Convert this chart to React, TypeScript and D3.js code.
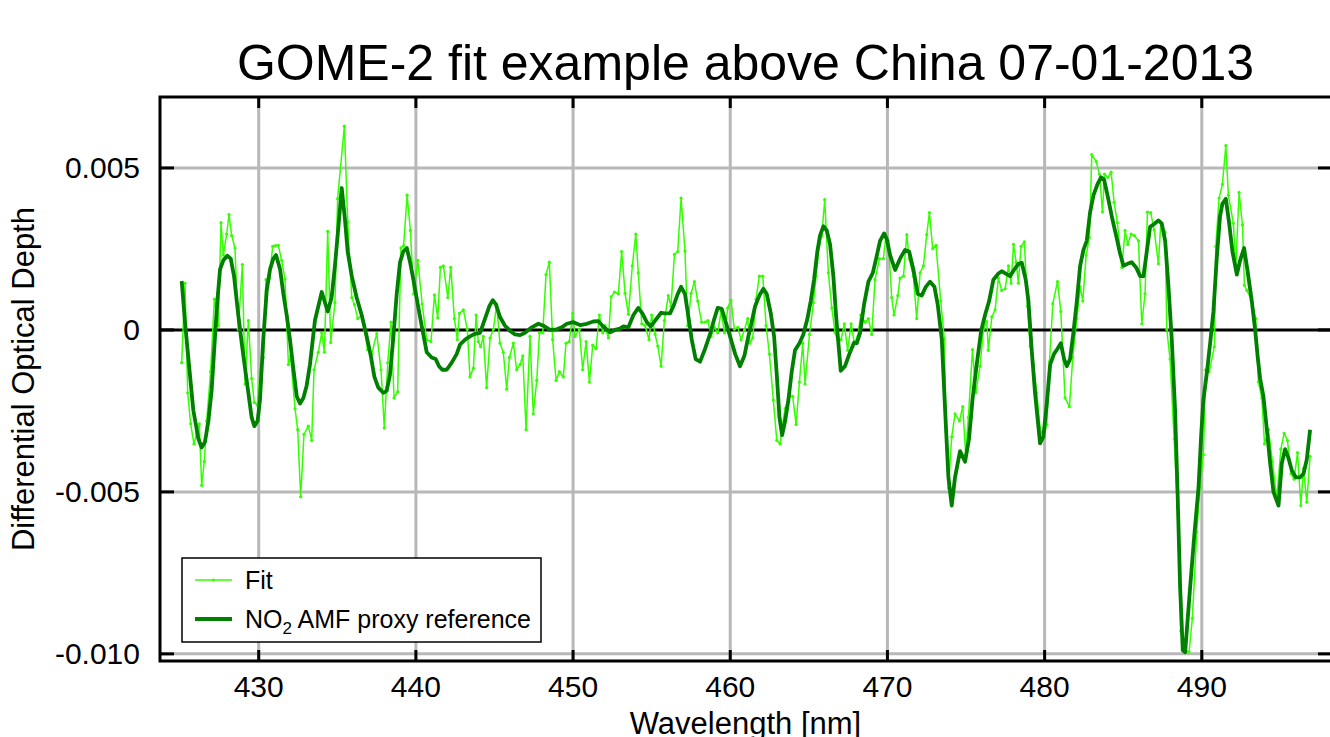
import React from "react";
import * as d3 from "d3";

const UNIT = 1e-3;

const fitWavelengths = [
  425.10, 425.31, 425.48, 425.67, 425.88, 426.05, 426.22, 426.37, 426.54, 426.69, 426.94, 427.18, 427.43, 427.60, 427.75, 427.96, 428.11, 428.28, 428.49, 428.70, 428.96, 429.13, 429.34, 429.55, 429.72, 429.91, 430.08, 430.29, 430.46, 430.68, 430.89, 431.06, 431.25, 431.46, 431.67, 431.89, 432.03, 432.31, 432.48, 432.67, 432.88, 433.16, 433.37, 433.52,
  433.79, 434.01, 434.18, 434.39, 434.58, 434.85, 435.02, 435.45, 435.66, 435.92, 436.09, 436.30, 436.55, 436.72, 436.93, 437.19, 437.51, 437.78, 437.99, 438.21, 438.42, 438.61, 438.84, 439.05, 439.22, 439.44, 439.65, 439.86, 440.12, 440.40, 440.69, 440.96, 441.18, 441.39, 441.56, 441.75, 442.03, 442.22, 442.45, 442.64, 442.77,
  443.02, 443.27, 443.44, 443.66, 443.83, 443.97, 444.12, 444.29, 444.50, 444.72, 444.93, 445.14, 445.35, 445.56, 445.78, 445.95, 446.20, 446.41, 446.63, 446.80, 447.01, 447.26, 447.47, 447.69, 447.86, 448.07, 448.28, 448.49, 448.70, 448.92, 449.13, 449.38, 449.55, 449.76, 449.98, 450.12, 450.40, 450.61, 450.83, 451.04, 451.25, 451.46, 451.67, 451.89,
  452.03, 452.25, 452.42, 452.63, 452.88, 453.09, 453.31, 453.52, 453.77, 453.99, 454.15, 454.37, 454.58, 454.83, 455.00, 455.22, 455.39, 455.60, 455.81, 456.06, 456.23, 456.45, 456.66, 456.87, 457.12, 457.29, 457.51, 457.72, 457.93, 458.18, 458.40, 458.57, 458.78, 458.99, 459.20, 459.42, 459.63, 459.84, 460.05, 460.26, 460.48, 460.69, 460.90, 461.11,
  461.26, 461.43, 461.64, 461.85, 462.07, 462.28, 462.49, 462.74, 462.96, 463.17, 463.33, 463.49, 463.76, 463.97, 464.19, 464.40, 464.61, 464.76, 465.04, 465.29, 465.46, 465.67, 465.82, 466.01, 466.24, 466.46, 466.67, 466.88, 467.05, 467.26, 467.47, 467.69, 467.90, 468.11, 468.30, 468.58, 468.79, 469.00, 469.21, 469.49, 469.74, 469.91, 470.06, 470.27, 470.42,
  470.66, 470.80, 471.02, 471.23, 471.38, 471.65, 471.86, 472.08, 472.29, 472.50, 472.67, 472.88, 473.09, 473.39, 473.62, 473.73, 473.88, 474.09, 474.30, 474.58, 474.79, 474.98, 475.15, 475.41, 475.62, 475.89, 476.11, 476.32, 476.42, 476.64, 476.85, 477.06, 477.27, 477.49, 477.70, 477.87, 478.02, 478.19, 478.33, 478.50, 478.71, 478.91, 479.08, 479.29, 479.50, 479.71,
  479.92, 480.14, 480.31, 480.52, 480.82, 481.03, 481.30, 481.58, 481.79, 482.05, 482.26, 482.43, 482.64, 482.85, 483.00, 483.28, 483.49, 483.68, 483.81, 484.02, 484.23, 484.42, 484.63, 484.91, 485.12, 485.29, 485.50, 485.71, 485.97, 486.18, 486.39, 486.54, 486.75, 486.97, 487.24, 487.39, 487.67, 487.77, 487.98, 488.24, 488.45, 488.66, 488.87,
  489.19, 489.40, 489.68, 489.89, 490.10, 490.25, 490.47, 490.80, 490.89, 491.10, 491.31, 491.53, 491.69, 492.01, 492.16, 492.37, 492.59, 492.71, 492.86, 493.14, 493.43, 493.60, 493.82, 493.99, 494.24, 494.49, 494.77, 495.03, 495.24, 495.45, 495.68, 495.87, 496.09, 496.30, 496.47, 496.68, 496.89,
];

// values in units of 1e-3
const fitValues = [
  -1.01, 1.44, -1.94, -2.9, -3.52, -3.2, -2.9, -4.8, -4.06, -2.81, -1.29, 0.95, 0.13, 3.31, 2.31, 2.96, 3.56, 2.91, 2.53, 0.02, 2.02, -1.67, 0.29, -1.5, -2.24, -2.32, -1.29, -0.85, 1.55, 1.6, 2.58, 2.6, 2.61, 2.15, 1.57, -1.07, -0.8, -2.43, -3.08, -5.15, -3.22, -2.97, -3.41, -1.23,
  -0.69, -0.09, -0.69, 3.04, -0.39, 0.84, 4.05, 6.29, 3.34, 1.0, 0.78, 0.35, 0.46, 0.0, -0.61, -0.74, -0.11, -1.23, -3.03, -1.01, 0.24, -2.1, -1.91, 2.53, 2.6, 4.16, 3.07, 1.11, 2.15, 0.8, -0.3, -0.36, 1.08, 0.37, 1.93, 1.98, 1.0, 1.93, 0.35, -0.3, 0.51,
  0.62, 0.02, -1.45, -1.18, 0.46, -0.36, -0.52, -0.2, -1.78, -0.25, 0.02, 0.78, -0.41, -0.69, -1.83, -0.85, -0.41, -1.23, -1.07, -0.8, -3.08, -0.2, -2.59, -1.56, -0.09, -0.09, 1.71, 2.09, -0.3, -1.56, -1.29, -1.45, -0.41, -0.36, 0.51, -0.2, 0.02, -1.23, -0.36, -1.61, -0.47, -0.58, 0.46, -0.09,
  0.13, -0.25, 1.02, 1.17, 1.11, 2.42, 1.13, 0.48, 1.98, 2.96, 1.76, 0.19, 0.13, -0.3, 0.46, -0.14, -0.5, -1.12, 0.29, 1.06, 0.73, 2.33, 2.42, 4.07, 2.44, 0.13, 1.13, 1.49, 0.89, 0.24, 0.24, 0.29, -0.2, 0.08, -0.09, 0.57, -0.09, 0.68, 0.92, 0.02, 0.08, -0.3, 0.0, 0.35,
  -0.41, -0.25, 0.95, 1.66, 1.66, 0.13, -0.74, -2.16, -3.41, -3.52, -2.9, -2.43, -2.05, -2.05, -2.92, -1.61, -0.41, -1.67, -0.14, 0.84, 1.66, 2.64, 2.91, 4.02, 1.76, 0.68, -0.09, -0.41, -0.3, 0.19, -0.63, 0.19, -0.41, -0.2, 0.46, 0.24, 0.35, -0.14, 1.55, 2.2, 2.2, 2.91, 2.75, 1.0, 0.46,
  1.06, 1.6, 1.66, 2.94, 2.2, 1.66, 0.35, 1.76, 1.98, 2.94, 3.62, 2.51, 2.61, 0.89, -0.28, -3.12, -4.88, -3.3, -2.59, -2.81, -2.37, -3.85, -2.7, -0.61, -1.94, -1.12, 0.02, 0.26, -0.63, 0.4, 0.62, 1.6, 1.22, 1.27, 1.98, 1.44, 2.64, 2.09, 1.44, 2.58, 2.72, 0.73, -0.5, -1.07, -1.94, -3.03,
  -3.3, -2.92, -0.98, 0.81, 1.49, 0.57, -2.1, -2.37, -0.85, 0.35, 1.33, 0.89, 2.31, 2.85, 5.41, 5.2, 4.81, 3.64, 4.81, 4.71, 4.87, 3.94, 3.31, 1.93, 3.07, 2.64, 2.96, 2.91, 2.75, 0.19, 1.11, 3.64, 3.62, 3.09, 2.04, 3.29, 3.02, 0.02, -0.9, -3.36, -5.48, -9.29, -9.84,
  -9.95, -8.9, -6.24, -4.83, -3.85, -1.23, -1.29, -0.52, 2.58, 4.07, 4.49, 5.69, 4.16, 3.29, 1.87, 4.25, 3.24, 1.38, 1.22, 0.95, 0.35, -1.61, -2.1, -3.52, -3.08, -4.06, -5.21, -3.68, -3.19, -3.41, -4.44, -4.61, -3.79, -5.42, -4.28, -5.32, -3.9,
];

const refWavelengths = [
  425.10, 425.31, 425.52, 425.84, 426.16, 426.37, 426.58, 426.80, 427.01, 427.22, 427.37, 427.54, 427.75, 428.00, 428.22, 428.43, 428.70, 428.92, 429.13, 429.34, 429.55, 429.72, 429.93, 430.08, 430.29, 430.51, 430.72, 430.93, 431.10, 431.36, 431.57, 431.78, 431.99, 432.20, 432.42, 432.63, 432.84, 433.05, 433.26, 433.58,
  434.01, 434.39, 434.64, 434.85, 435.07, 435.28, 435.49, 435.66, 435.92, 436.23, 436.55, 436.87, 437.15, 437.36, 437.61, 437.93, 438.14, 438.35, 438.57, 438.78, 438.99, 439.20, 439.42, 439.63, 439.84, 440.16, 440.41, 440.69, 441.00, 441.26, 441.47, 441.68, 441.96, 442.28, 442.60, 442.81,
  443.13, 443.44, 443.76, 444.08, 444.40, 444.67, 444.89, 445.10, 445.35, 445.67, 445.99, 446.31, 446.63, 446.94, 447.37, 447.79, 448.11, 448.53, 448.96, 449.28, 449.60, 450.02, 450.44, 450.87, 451.29, 451.61, 451.93,
  452.35, 452.67, 452.99, 453.20, 453.52, 453.84, 454.15, 454.41, 454.69, 454.94, 455.22, 455.60, 455.85, 456.17, 456.38, 456.66, 456.87, 457.12, 457.34, 457.55, 457.80, 458.08, 458.40, 458.71, 458.99, 459.20, 459.46, 459.71, 459.99, 460.31, 460.62, 460.90, 461.15,
  461.30, 461.58, 461.85, 462.11, 462.32, 462.58, 462.79, 462.96, 463.13, 463.30, 463.49, 463.70, 463.91, 464.12, 464.40, 464.65, 464.91, 465.12, 465.33, 465.54, 465.71, 465.93, 466.14, 466.35, 466.56, 466.73, 466.88, 467.03, 467.30, 467.58, 467.88, 468.05, 468.26, 468.51, 468.79, 469.07, 469.28, 469.53, 469.79, 469.96, 470.17, 470.49,
  470.80, 471.12, 471.38, 471.65, 471.93, 472.18, 472.44, 472.71, 472.99, 473.20, 473.46, 473.67, 473.88, 474.09, 474.30, 474.62, 474.94, 475.19, 475.41, 475.68, 475.96, 476.21, 476.47, 476.74, 477.06, 477.27, 477.53, 477.80, 478.08, 478.33, 478.55, 478.80, 478.97, 479.18, 479.39, 479.71,
  479.92, 480.14, 480.35, 480.60, 480.82, 481.03, 481.24, 481.41, 481.62, 481.83, 482.05, 482.26, 482.47, 482.68, 482.89, 483.11, 483.36, 483.59, 483.78, 484.00, 484.27, 484.55, 484.80, 485.02, 485.27, 485.54, 485.82, 486.08, 486.29, 486.50, 486.71, 486.97, 487.24, 487.45, 487.67, 487.88, 488.09, 488.30, 488.47, 488.62, 488.79,
  488.94, 489.26, 489.53, 489.79, 489.96, 490.10, 490.32, 490.53, 490.74, 490.95, 491.16, 491.31, 491.53, 491.74, 491.95, 492.23, 492.44, 492.69, 492.93, 493.18, 493.39, 493.56, 493.71, 493.92, 494.13, 494.35, 494.56, 494.88, 495.09, 495.30, 495.51, 495.73, 495.98, 496.26, 496.47, 496.68, 496.89,
];

const refValues = [
  1.51, 0.24, -0.85, -2.48, -3.36, -3.63, -3.46, -2.81, -1.83, -0.2, 0.9, 1.87, 2.15, 2.29, 2.2, 1.66, 0.46, -0.41, -1.18, -1.94, -2.7, -2.97, -2.81, -2.16, -0.3, 1.22, 1.87, 2.2, 2.31, 1.87, 1.11, 0.46, -0.3, -1.18, -2.05, -2.27, -2.1, -1.72, -1.07, 0.3,
  1.17, 0.57, 1.0, 1.98, 3.18, 4.38, 3.4, 2.42, 1.66, 1.0, 0.46, -0.2, -0.85, -1.45, -1.78, -1.94, -1.88, -1.39, -0.2, 1.11, 2.09, 2.42, 2.53, 2.09, 1.55, 0.68, 0.02, -0.69, -0.85, -0.9, -1.12, -1.23, -1.23, -1.01, -0.74, -0.45,
  -0.3, -0.2, -0.12, -0.09, 0.35, 0.73, 0.92, 0.78, 0.4, 0.13, -0.03, -0.14, -0.16, -0.09, 0.08, 0.19, 0.13, 0.0, 0.02, 0.08, 0.19, 0.24, 0.15, 0.19, 0.26, 0.27, 0.1,
  -0.07, 0.0, 0.04, 0.11, 0.08, 0.46, 0.68, 0.51, 0.24, 0.11, 0.29, 0.53, 0.51, 0.51, 0.73, 1.11, 1.33, 1.11, 0.4, -0.3, -0.9, -0.98, -0.58, -0.14, 0.35, 0.68, 0.65, 0.24, -0.2, -0.74, -1.12, -0.8, -0.2,
  0.1, 0.73, 1.06, 1.27, 1.11, 0.51, -0.2, -1.39, -2.7, -3.25, -2.81, -2.16, -1.29, -0.63, -0.41, -0.14, 0.35, 0.89, 1.55, 2.42, 2.91, 3.2, 3.07, 2.64, 1.66, 0.46, -0.41, -1.26, -1.12, -0.74, -0.39, -0.41, -0.09, 0.78, 1.49, 1.76, 2.2, 2.75, 2.98, 2.8, 2.31, 1.85,
  2.2, 2.47, 2.42, 1.87, 1.11, 1.06, 1.33, 1.49, 1.33, 0.78, -0.3, -2.48, -4.55, -5.42, -4.55, -3.74, -4.07, -3.36, -2.16, -1.07, -0.03, 0.46, 0.89, 1.55, 1.74, 1.81, 1.74, 1.66, 1.87, 2.04, 2.07, 1.55, 0.89, -0.63, -1.94, -3.5,
  -3.3, -2.27, -1.07, -0.74, -0.58, -0.41, -0.9, -1.12, -0.9, -0.09, 0.89, 1.98, 2.47, 2.75, 3.62, 4.16, 4.49, 4.71, 4.65, 4.16, 3.51, 2.91, 2.36, 1.98, 2.04, 2.09, 1.93, 1.66, 1.66, 2.42, 3.18, 3.27, 3.38, 3.29, 2.75, 1.33, -0.3, -2.48, -5.21, -7.93, -9.89,
  -9.95, -7.93, -6.3, -4.88, -3.25, -2.16, -1.34, -0.41, 0.57, 2.2, 3.51, 3.89, 4.05, 3.29, 2.42, 1.71, 2.15, 2.53, 1.76, 0.89, 0.02, -0.85, -1.5, -2.05, -3.03, -4.12, -5.0, -5.42, -4.12, -3.68, -3.95, -4.34, -4.55, -4.55, -4.44, -4.0, -3.08,
];

const xTicks = [430, 440, 450, 460, 470, 480, 490];
const yTicks = [0.005, 0, -0.005, -0.01];
const yTickLabels = ["0.005", "0", "-0.005", "-0.010"];
const titleText = "GOME-2 fit example above China 07-01-2013";
const xLabel = "Wavelength [nm]";
const yLabel = "Differential Optical Depth";
const legendFit = "Fit";

const FIT_COLOR = "#33ff00";
const REF_COLOR = "#008000";
const GRID_COLOR = "#b8b8b8";
const FONT = "'Liberation Sans', Arial, Helvetica, sans-serif";

export default function App() {
  const W = 1330, H = 737;
  const left = 160, right = 1331, top = 97, bottom = 661;
  const x = d3.scaleLinear().domain([423.72, 498.22]).range([left, right]);
  const y = d3.scaleLinear().domain([-0.01022, 0.00719]).range([bottom, top]);

  const fitData = fitWavelengths.map((w, i) => [w, fitValues[i] * UNIT] as [number, number]);
  const refData = refWavelengths.map((w, i) => [w, refValues[i] * UNIT] as [number, number]);
  const line = d3.line<[number, number]>().x(d => x(d[0])).y(d => y(d[1]));

  return (
    <svg width={W} height={H} style={{ position: "absolute", left: 0, top: 0, background: "#fff" }} fontFamily={FONT}>
      <rect x={0} y={0} width={W} height={H} fill="#fff" />
      <defs>
        <clipPath id="plotclip">
          <rect x={left} y={top} width={right - left} height={bottom - top} />
        </clipPath>
      </defs>
      {/* grid */}
      {xTicks.map(t => (
        <line key={"gx" + t} x1={x(t)} x2={x(t)} y1={top} y2={bottom} stroke={GRID_COLOR} strokeWidth={3} />
      ))}
      {yTicks.filter(t => t !== 0).map(t => (
        <line key={"gy" + t} x1={left} x2={right} y1={y(t)} y2={y(t)} stroke={GRID_COLOR} strokeWidth={3} />
      ))}
      <line x1={left} x2={right} y1={y(0)} y2={y(0)} stroke="#000" strokeWidth={3} />
      {/* series */}
      <g clipPath="url(#plotclip)">
        <path d={line(fitData) || ""} fill="none" stroke={FIT_COLOR} strokeWidth={1.5} strokeLinejoin="round" />
        {fitData.map((d, i) => (
          <circle key={"fp" + i} cx={x(d[0])} cy={y(d[1])} r={1.6} fill={FIT_COLOR} />
        ))}
        <path d={line(refData) || ""} fill="none" stroke={REF_COLOR} strokeWidth={3.8} strokeLinejoin="round" />
      </g>
      {/* frame */}
      <path d={`M${right},${top}H${left}V${bottom}H${right}`} fill="none" stroke="#000" strokeWidth={3} />
      {/* ticks */}
      {xTicks.map(t => (
        <g key={"xt" + t}>
          <line x1={x(t)} x2={x(t)} y1={bottom} y2={bottom - 11} stroke="#000" strokeWidth={3} />
          <line x1={x(t)} x2={x(t)} y1={top} y2={top + 11} stroke="#000" strokeWidth={3} />
          <text x={x(t)} y={697} textAnchor="middle" fontSize={30} fill="#000">{t}</text>
        </g>
      ))}
      {yTicks.map((t, i) => (
        <g key={"yt" + t}>
          <line x1={left} x2={left + 14} y1={y(t)} y2={y(t)} stroke="#000" strokeWidth={3} />
          <line x1={right - 13} x2={right} y1={y(t)} y2={y(t)} stroke="#000" strokeWidth={3} />
          <text x={140} y={y(t) + 10.5} textAnchor="end" fontSize={30} fill="#000">{yTickLabels[i]}</text>
        </g>
      ))}
      {/* title and labels */}
      <text x={(left + right) / 2} y={80} textAnchor="middle" fontSize={50} fill="#000">{titleText}</text>
      <text x={(left + right) / 2} y={734} textAnchor="middle" fontSize={31} fill="#000">{xLabel}</text>
      <text transform={`translate(34,${(top + bottom) / 2}) rotate(-90)`} textAnchor="middle" fontSize={31} fill="#000">{yLabel}</text>
      {/* legend */}
      <g>
        <rect x={182} y={558} width={359} height={84} fill="#fff" stroke="#000" strokeWidth={1.5} />
        <line x1={195} x2={232} y1={580} y2={580} stroke={FIT_COLOR} strokeWidth={1.5} />
        <circle cx={213.5} cy={580} r={1.6} fill={FIT_COLOR} />
        <text x={245} y={589} fontSize={25} fill="#000">{legendFit}</text>
        <line x1={195} x2={232} y1={619} y2={619} stroke={REF_COLOR} strokeWidth={3.8} />
        <text x={245} y={628} fontSize={25} fill="#000">
          NO<tspan fontSize={17} dy={6}>2</tspan><tspan dy={-6}> AMF proxy reference</tspan>
        </text>
      </g>
    </svg>
  );
}
